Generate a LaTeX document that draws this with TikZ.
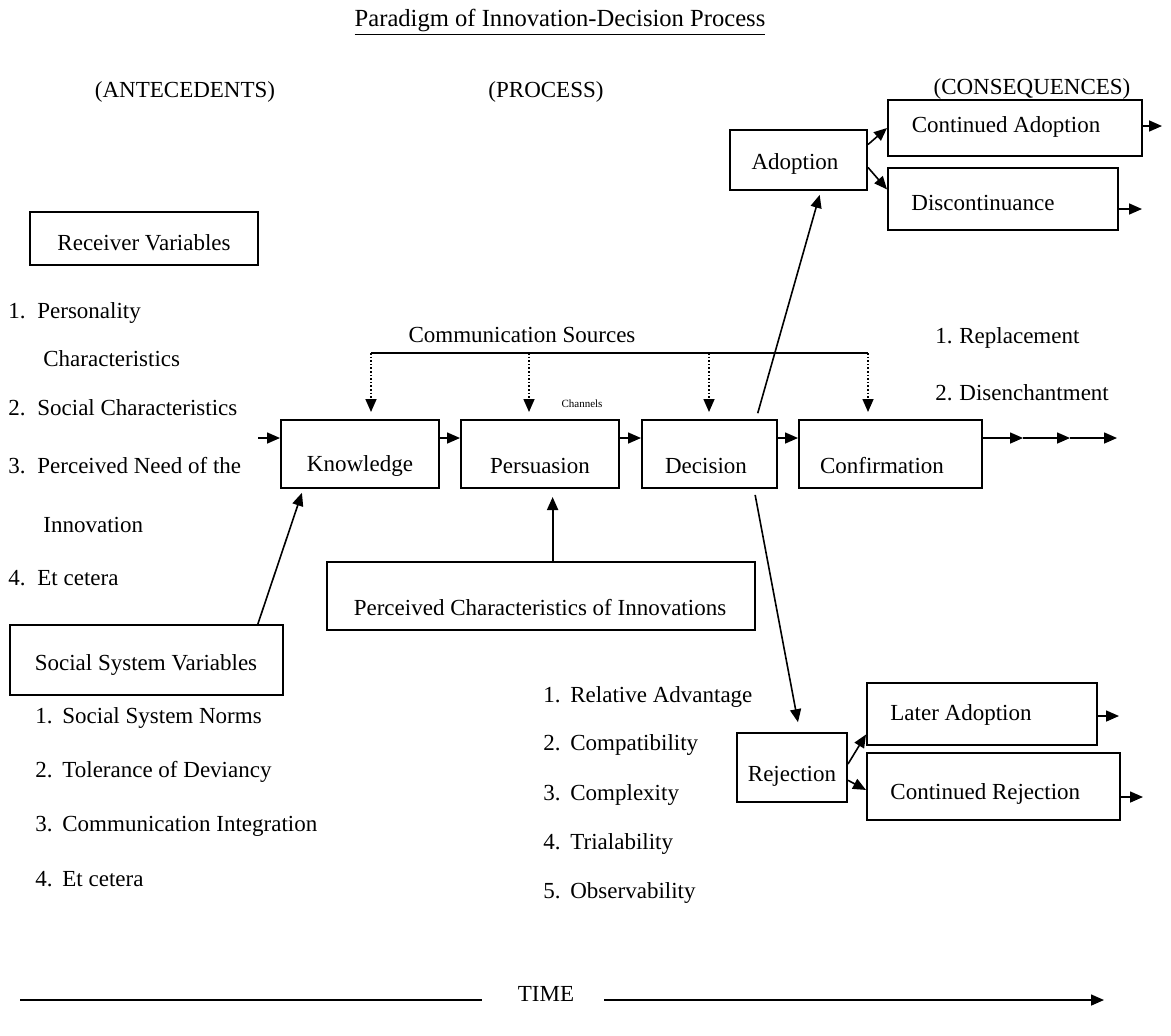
\documentclass[tikz,border=0pt]{standalone}
\usepackage{fontspec}
\setmainfont{Liberation Serif}
\usetikzlibrary{arrows.meta,fit,calc}
\begin{document}
\begin{tikzpicture}[x=0.5pt,y=-0.5pt,
  every node/.style={font=\fontsize{11.5pt}{13pt}\selectfont, inner sep=0pt},
  box/.style={draw, line width=1pt, inner sep=0pt},
  txt/.style={anchor=center},
  lst/.style={anchor=west},
  arr/.style={line width=0.8pt, -{Triangle[length=6.5pt,width=5.5pt]}},
  dotarr/.style={line width=0.8pt, densely dotted, -{Triangle[length=6.5pt,width=5.5pt]}},
  plain/.style={line width=0.8pt}]
\useasboundingbox (0,0) rectangle (1171,1035);

% title and column heads
\node[txt, font=\fontsize{12.3pt}{14pt}\selectfont] (title) at (560,22) {\underline{Paradigm of Innovation-Decision Process}};
\node[txt] (ante) at (185,92) {(ANTECEDENTS)};
\node[txt] (proc) at (546,92) {(PROCESS)};
\node[txt] (cons) at (1032,89) {(CONSEQUENCES)};

% receiver variables
\node[box, fit={(30,212)(258,265)}] (recv) {};
\node[txt] (recvT) at (144,243) {Receiver Variables};
\node[lst] (r1) at (8,313) {\makebox[14.5pt][l]{1.}Personality};
\node[lst] (r1b) at (43,359) {Characteristics};
\node[lst] (r2) at (8,408) {\makebox[14.5pt][l]{2.}Social Characteristics};
\node[lst] (r3) at (8,466) {\makebox[14.5pt][l]{3.}Perceived Need of the};
\node[lst] (r3b) at (43,525) {Innovation};
\node[lst] (r4) at (8,578) {\makebox[14.5pt][l]{4.}Et cetera};

% social system variables
\node[box, fit={(10,625)(283,695)}] (ssv) {};
\node[txt] (ssvT) at (146,665) {Social System Variables};
\node[lst] (s1) at (35,718) {\makebox[13.5pt][l]{1.}Social System Norms};
\node[lst] (s2) at (35,772) {\makebox[13.5pt][l]{2.}Tolerance of Deviancy};
\node[lst] (s3) at (35,826) {\makebox[13.5pt][l]{3.}Communication Integration};
\node[lst] (s4) at (35,879) {\makebox[13.5pt][l]{4.}Et cetera};

% process boxes
\node[box, fit={(281,420)(439,488)}] (know) {};
\node[txt] (knowT) at (360,466) {Knowledge};
\node[box, fit={(461,420)(619,488)}] (pers) {};
\node[txt] (persT) at (540,466) {Persuasion};
\node[box, fit={(642,420)(777,488)}] (deci) {};
\node[txt] (deciT) at (706,466) {Decision};
\node[box, fit={(799,420)(982,488)}] (conf) {};
\node[txt] (confT) at (882,466) {Confirmation};

\coordinate (in0) at (258,438);
\draw[arr] (in0) -- (know.west |- in0);
\draw[arr] (know.east |- in0) -- (pers.west |- in0);
\draw[arr] (pers.east |- in0) -- (deci.west |- in0);
\draw[arr] (deci.east |- in0) -- (conf.west |- in0);
\coordinate (o1) at (1023,438);
\coordinate (o2) at (1070,438);
\coordinate (o3) at (1117,438);
\draw[arr] (conf.east |- in0) -- (o1);
\draw[arr] (o1) -- (o2);
\draw[arr] (o2) -- (o3);

% communication sources
\node[txt] (cs) at (522,335) {Communication Sources};
\coordinate (cs1) at (371,353);
\coordinate (cs2) at (529,353);
\coordinate (cs3) at (709,353);
\coordinate (cs4) at (868,353);
\draw[line width=1pt] (cs1) -- (cs4);
\draw[dotarr, shorten >=3.5pt] (cs1) -- (cs1 |- know.north);
\draw[dotarr, shorten >=3.5pt] (cs2) -- (cs2 |- pers.north);
\draw[dotarr, shorten >=3.5pt] (cs3) -- (cs3 |- deci.north);
\draw[dotarr, shorten >=3.5pt] (cs4) -- (cs4 |- conf.north);
\node[txt, font=\fontsize{5.5pt}{6pt}\selectfont] (chan) at (582,404) {Channels};

% perceived characteristics
\node[box, fit={(327,562)(755,630)}] (pci) {};
\node[txt] (pciT) at (540,607) {Perceived Characteristics of Innovations};
\coordinate (pcitop) at ($(pci.north west)!0.527!(pci.north east)$);
\draw[arr, line width=1pt, shorten >=4pt] (pcitop) -- (pers.south -| pcitop);
\node[lst] (p1) at (543,697) {\makebox[13.5pt][l]{1.}Relative Advantage};
\node[lst] (p2) at (543,745) {\makebox[13.5pt][l]{2.}Compatibility};
\node[lst] (p3) at (543,795) {\makebox[13.5pt][l]{3.}Complexity};
\node[lst] (p4) at (543,844) {\makebox[13.5pt][l]{4.}Trialability};
\node[lst] (p5) at (543,893) {\makebox[13.5pt][l]{5.}Observability};

% social system -> knowledge
\draw[arr, shorten >=2pt] ($(ssv.north west)!0.905!(ssv.north east)$) -- ($(know.south west)!0.145!(know.south east)$);

% adoption branch
\node[box, fit={(730,130)(867,190)}] (adopt) {};
\node[txt] (adoptT) at (795,164) {Adoption};
\node[box, fit={(888,100)(1142,156)}] (contad) {};
\node[txt] (contadT) at (1006,127) {Continued Adoption};
\node[box, fit={(888,168)(1118,230)}] (disc) {};
\node[txt] (discT) at (983,203) {Discontinuance};
\draw[arr, shorten <=3pt, shorten >=2pt] ($(deci.north west)!0.84!(deci.north east)$) -- ($(adopt.south west)!0.66!(adopt.south east)$);
\draw[arr] ($(adopt.north east)!0.25!(adopt.south east)$) -- ($(contad.north west)!0.5!(contad.south west)$);
\draw[arr] ($(adopt.north east)!0.62!(adopt.south east)$) -- ($(disc.north west)!0.35!(disc.south west)$);
\coordinate (ca0) at (1162,126);
\coordinate (di0) at (1142,209);
\draw[arr] (contad.east |- ca0) -- (ca0);
\draw[arr] (disc.east |- di0) -- (di0);
\node[lst] (d1) at (935,338) {\makebox[12pt][l]{1.}Replacement};
\node[lst] (d2) at (935,393) {\makebox[12pt][l]{2.}Disenchantment};

% rejection branch
\node[box, fit={(737,733)(847,802)}] (rej) {};
\node[txt] (rejT) at (792,776) {Rejection};
\node[box, fit={(867,683)(1097,745)}] (later) {};
\node[lst] (laterT) at (890,715) {Later Adoption};
\node[box, fit={(867,753)(1120,820)}] (crej) {};
\node[lst] (crejT) at (890,794) {Continued Rejection};
\draw[arr, shorten <=3pt, shorten >=5pt] ($(deci.south west)!0.825!(deci.south east)$) -- ($(rej.north west)!0.57!(rej.north east)$);
\draw[arr] ($(rej.north east)!0.45!(rej.south east)$) -- ($(later.north west)!0.82!(later.south west)$);
\draw[arr] ($(rej.north east)!0.68!(rej.south east)$) -- ($(crej.north west)!0.55!(crej.south west)$);
\coordinate (la0) at (1119,716);
\coordinate (cr0) at (1143,797);
\draw[arr] (later.east |- la0) -- (la0);
\draw[arr] (crej.east |- cr0) -- (cr0);

% time axis
\node[txt] (time) at (546,994) {TIME};
\coordinate (tl1) at (20,1000);
\coordinate (tl2) at (482,1000);
\coordinate (tr1) at (604,1000);
\coordinate (tr2) at (1104,1000);
\draw[plain] (tl1) -- (tl2);
\draw[arr] (tr1) -- (tr2);
\end{tikzpicture}
\end{document}
